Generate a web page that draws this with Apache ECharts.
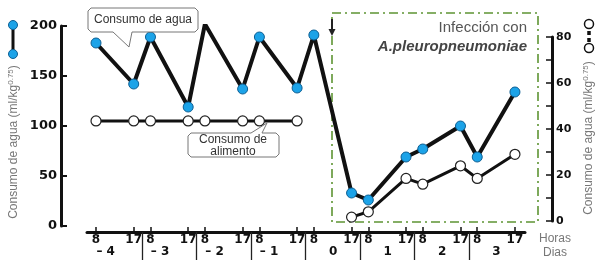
<!DOCTYPE html>
<html>
<head>
<meta charset="utf-8">
<script src="https://cdn.jsdelivr.net/npm/echarts@6/dist/echarts.min.js"></script>
<style>html,body{margin:0;padding:0;background:#fff}#c{width:600px;height:267px}</style>
</head>
<body>
<div id="c"></div>
<script>
// ---- data ----
const days = [-4, -3, -2, -1, 0, 1, 2, 3];
const dayLabels = ['– 4', '– 3', '– 2', '– 1', '0', '1', '2', '3'];
const hours = [8, 17];
// water intake (ml/kg^0.75), left axis, one value per day/hour slot
const waterIntake = [183, 142, 189, 119, 202, 137, 189, 138, 191, 33, 26, 69, 77, 100, 69, 134];
// food intake, right axis (null = not measured)
const foodIntake = [43.5, 43.5, 43.5, 43.5, 43.5, 43.5, 43.5, 43.5, null, 1.7, 4, 18.5, 16, 24, 18.5, 29];
const leftTicks = [0, 50, 100, 150, 200];
const rightTicks = [0, 20, 40, 60, 80];

// compressed time scale: 9 units between 8h and 17h, 4 units overnight
function slot(d, h) { return (d + 4) * 13 + (h === 17 ? 9 : 0); }
const slots = [];
days.forEach(d => hours.forEach(h => slots.push({ d, h, x: slot(d, h) })));
const waterData = slots.map((s, i) => [s.x, waterIntake[i]]);
const foodData = slots.map((s, i) => [s.x, foodIntake[i]]);
const hourTickVals = slots.map(s => s.x);
const hourByX = {}; slots.forEach(s => { hourByX[s.x] = String(s.h); });
const sepVals = days.slice(0, -1).map(d => slot(d, 17) + 2);
const dayLabelVals = days.map(d => slot(d, 8) + (d < 0 ? 2.3 : 4.6));
const dayByX = {}; days.forEach((d, i) => { dayByX[dayLabelVals[i]] = dayLabels[i]; });

const X_MIN = -2.15, X_MAX = 102.4;
const numFont = 'DejaVu Sans';
const chart = echarts.init(document.getElementById('c'), null, { renderer: 'canvas' });

const titleRich = {
  a: { fontFamily: 'Liberation Sans', fontSize: 12, fill: '#777', lineHeight: 14 },
  s: { fontFamily: 'Liberation Sans', fontSize: 8, fill: '#777', lineHeight: 14, verticalAlign: 'top' }
};

chart.setOption({
  animation: false,
  backgroundColor: '#fff',
  grid: [
    { left: 87, right: 75, top: 26, bottom: 41 },
    { left: 87, right: 75, top: 37, bottom: 46 }
  ],
  xAxis: [
    {
      type: 'value', gridIndex: 0, min: X_MIN, max: X_MAX, position: 'bottom', offset: 6,
      splitLine: { show: false },
      axisLine: { show: true, onZero: false, lineStyle: { color: '#111', width: 3 } },
      axisTick: { show: true, inside: true, length: 5, customValues: hourTickVals, lineStyle: { color: '#111', width: 1.5 } },
      axisLabel: { show: true, customValues: hourTickVals, margin: 2, formatter: v => hourByX[v] || '',
        fontFamily: numFont, fontWeight: 'bold', fontSize: 12, color: '#111' }
    },
    {
      type: 'value', gridIndex: 0, min: X_MIN, max: X_MAX, position: 'bottom', offset: 6,
      splitLine: { show: false },
      axisLine: { show: false, onZero: false },
      axisTick: { show: true, inside: false, length: 28, customValues: sepVals, lineStyle: { color: '#222', width: 1.3 } },
      axisLabel: { show: true, customValues: dayLabelVals, margin: 14, formatter: v => dayByX[v] || '',
        fontFamily: numFont, fontWeight: 'bold', fontSize: 12, color: '#111' }
    },
    {
      type: 'value', gridIndex: 1, min: X_MIN, max: X_MAX, show: false, splitLine: { show: false },
      axisLine: { onZero: false }
    }
  ],
  yAxis: [
    {
      type: 'value', gridIndex: 0, min: leftTicks[0], max: leftTicks[leftTicks.length - 1], interval: 50,
      position: 'left', offset: 26,
      splitLine: { show: false },
      axisLine: { show: true, onZero: false, lineStyle: { color: '#111', width: 3 } },
      axisTick: { show: true, inside: true, length: 6, lineStyle: { color: '#111', width: 2 } },
      axisLabel: { margin: 4, fontFamily: numFont, fontWeight: 'bold', fontSize: 13, color: '#111' }
    },
    {
      type: 'value', gridIndex: 1, min: rightTicks[0], max: rightTicks[rightTicks.length - 1], interval: 20,
      position: 'right', offset: 27,
      splitLine: { show: false },
      axisLine: { show: true, onZero: false, lineStyle: { color: '#111', width: 3 } },
      axisTick: { show: true, inside: true, length: 6, lineStyle: { color: '#111', width: 1.5 } },
      minorTick: { show: true, splitNumber: 2, length: 6, lineStyle: { color: '#111', width: 1.5 } },
      axisLabel: { margin: 4, fontFamily: numFont, fontWeight: 'bold', fontSize: 11, color: '#111' }
    }
  ],
  series: [
    {
      name: 'Consumo de alimento', type: 'line', xAxisIndex: 2, yAxisIndex: 1, data: foodData,
      connectNulls: false, symbol: 'circle', symbolSize: 10, z: 3,
      lineStyle: { color: '#111', width: 3 },
      itemStyle: { color: '#fff', borderColor: '#222', borderWidth: 1.2 }
    },
    {
      name: 'Consumo de agua', type: 'line', xAxisIndex: 0, yAxisIndex: 0, data: waterData,
      symbol: 'circle', symbolSize: 10, z: 4,
      lineStyle: { color: '#111', width: 4 },
      itemStyle: { color: '#1ca3e8', borderColor: '#0d5f93', borderWidth: 1 }
    }
  ],
  graphic: [
    { type: 'rect', z: 1, shape: { x: 332, y: 13, width: 206, height: 209 },
      style: { fill: 'none', stroke: '#5e9433', lineWidth: 1.6, lineDash: [9, 4, 2, 4] } },
    { type: 'line', z: 5, shape: { x1: 332, y1: 19, x2: 332, y2: 31 }, style: { stroke: '#222', lineWidth: 2 } },
    { type: 'polygon', z: 5, shape: { points: [[328.5, 29], [335.5, 29], [332, 36]] }, style: { fill: '#222' } },
    { type: 'text', z: 6, x: 527, y: 28,
      style: { text: 'Infección con', fontFamily: 'Liberation Sans', fontSize: 15, fill: '#555', align: 'right', verticalAlign: 'middle' } },
    { type: 'text', z: 6, x: 527, y: 47,
      style: { text: 'A.pleuropneumoniae', fontFamily: 'Liberation Sans', fontSize: 15, fontWeight: 'bold', fontStyle: 'italic', fill: '#444', align: 'right', verticalAlign: 'middle' } },
    { type: 'polygon', z: 6,
      shape: { points: [[91, 8], [195, 8], [198, 11], [198, 29], [195, 32], [132, 32], [129, 47], [113, 32], [91, 32], [88, 29], [88, 11]] },
      style: { fill: '#fff', stroke: '#777', lineWidth: 1 } },
    { type: 'text', z: 7, x: 143, y: 20,
      style: { text: 'Consumo de agua', fontFamily: 'Liberation Sans', fontSize: 12, fill: '#333', align: 'center', verticalAlign: 'middle' } },
    { type: 'polygon', z: 6,
      shape: { points: [[191, 133], [251, 133], [267, 123], [262, 133], [276, 133], [279, 136], [279, 154], [276, 157], [191, 157], [188, 154], [188, 136]] },
      style: { fill: '#fff', stroke: '#777', lineWidth: 1 } },
    { type: 'text', z: 7, x: 233, y: 140,
      style: { text: 'Consumo de', fontFamily: 'Liberation Sans', fontSize: 12, fill: '#333', align: 'center', verticalAlign: 'middle' } },
    { type: 'text', z: 7, x: 233, y: 152,
      style: { text: 'alimento', fontFamily: 'Liberation Sans', fontSize: 12, fill: '#333', align: 'center', verticalAlign: 'middle' } },
    { type: 'text', x: 14, y: 142, rotation: Math.PI / 2,
      style: { text: '{a|Consumo de agua (ml/kg}{s|0.75}{a|)}', align: 'center', verticalAlign: 'middle', rich: titleRich } },
    { type: 'text', x: 589, y: 138, rotation: Math.PI / 2,
      style: { text: '{a|Consumo de agua (ml/kg}{s|0.75}{a|)}', align: 'center', verticalAlign: 'middle', rich: titleRich } },
    { type: 'line', shape: { x1: 13, y1: 25, x2: 13, y2: 54 }, style: { stroke: '#111', lineWidth: 3 } },
    { type: 'circle', shape: { cx: 13, cy: 25, r: 4.5 }, style: { fill: '#1ca3e8', stroke: '#0d5f93', lineWidth: 1 } },
    { type: 'circle', shape: { cx: 13, cy: 54, r: 4.5 }, style: { fill: '#1ca3e8', stroke: '#0d5f93', lineWidth: 1 } },
    { type: 'line', shape: { x1: 589, y1: 24, x2: 589, y2: 48 }, style: { stroke: '#111', lineWidth: 3.5, lineDash: [4, 3] } },
    { type: 'circle', shape: { cx: 589, cy: 24, r: 4.5 }, style: { fill: '#fff', stroke: '#111', lineWidth: 1.5 } },
    { type: 'circle', shape: { cx: 589, cy: 48, r: 4.5 }, style: { fill: '#fff', stroke: '#111', lineWidth: 1.5 } },
    { type: 'text', x: 555, y: 239,
      style: { text: 'Horas', fontFamily: 'Liberation Sans', fontSize: 12, fill: '#777', align: 'center', verticalAlign: 'middle' } },
    { type: 'text', x: 555, y: 253,
      style: { text: 'Dias', fontFamily: 'Liberation Sans', fontSize: 12, fill: '#777', align: 'center', verticalAlign: 'middle' } }
  ]
});
</script>
</body>
</html>
